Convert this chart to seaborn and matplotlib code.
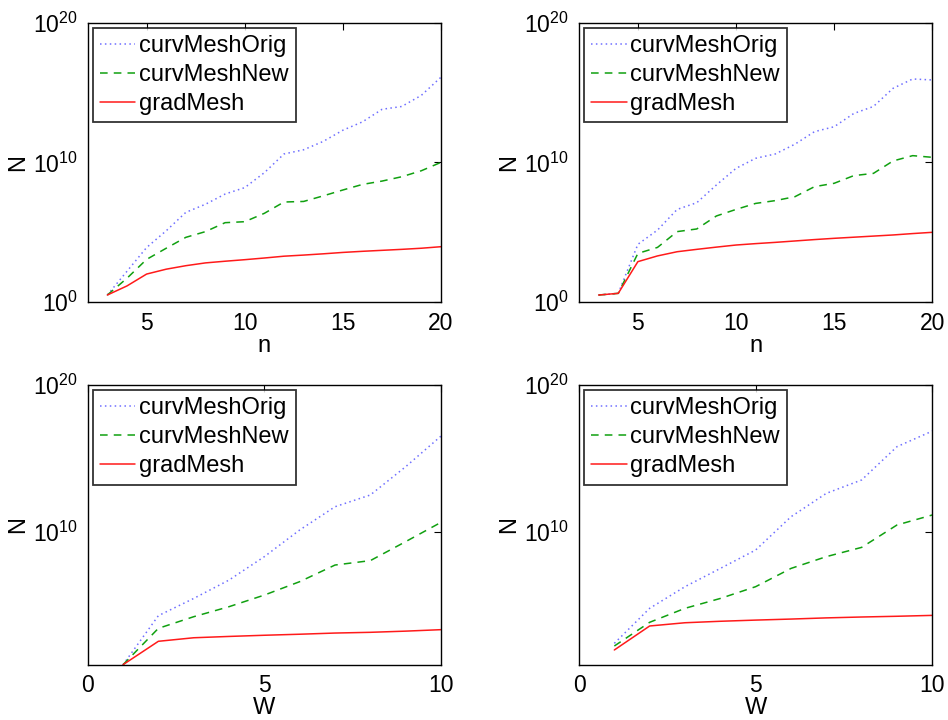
import numpy as np
import pandas as pd
import matplotlib
matplotlib.use("Agg")
import matplotlib.pyplot as plt
import seaborn as sns
from matplotlib.ticker import FixedLocator, LogFormatterMathtext, NullLocator

# Mesh sizes N, stored as log10 exponents for each series
n_vals = list(range(3, 21))
w_vals = list(range(1, 11))

tl_orig = [0.5, 2.2, 3.9, 5.1, 6.42, 7.0, 7.73, 8.19, 9.26, 10.6, 10.9, 11.5, 12.3, 12.9, 13.8, 14.0, 14.8, 16.1]
tl_new = [0.5, 1.7, 3.05, 3.85, 4.63, 5.04, 5.68, 5.75, 6.35, 7.16, 7.2, 7.6, 8.02, 8.42, 8.66, 8.97, 9.4, 10.0]
tl_grad = [0.5, 1.15, 2.0, 2.35, 2.6, 2.8, 2.92, 3.03, 3.15, 3.28, 3.36, 3.45, 3.55, 3.63, 3.7, 3.77, 3.85, 3.96]

tr_orig = [0.5, 0.62, 4.13, 5.15, 6.63, 7.11, 8.38, 9.57, 10.29, 10.6, 11.3, 12.2, 12.55, 13.5, 14.0, 15.3, 15.97, 15.9]
tr_new = [0.5, 0.62, 3.48, 3.91, 5.04, 5.23, 6.16, 6.63, 7.06, 7.26, 7.54, 8.26, 8.5, 9.05, 9.21, 10.1, 10.48, 10.36]
tr_grad = [0.5, 0.62, 2.89, 3.3, 3.6, 3.77, 3.93, 4.08, 4.18, 4.27, 4.37, 4.47, 4.56, 4.64, 4.72, 4.8, 4.9, 4.99]

bl_orig = [1.0, 4.33, 5.5, 6.75, 8.34, 10.15, 11.73, 12.53, 14.45, 16.53]
bl_new = [1.0, 3.47, 4.26, 4.94, 5.73, 6.64, 7.77, 8.07, 9.36, 10.67]
bl_grad = [1.0, 2.59, 2.83, 2.92, 3.0, 3.07, 3.15, 3.2, 3.28, 3.38]

br_orig = [2.45, 4.83, 6.3, 7.54, 8.79, 11.05, 12.64, 13.55, 15.81, 16.87]
br_new = [2.27, 3.88, 4.83, 5.5, 6.3, 7.54, 8.34, 8.97, 10.49, 11.17]
br_grad = [2.0, 3.63, 3.85, 3.95, 4.03, 4.1, 4.18, 4.24, 4.29, 4.35]

series_names = ["curvMeshOrig", "curvMeshNew", "gradMesh"]

sns.set_theme(style="white")
plt.rcParams["font.family"] = ["Liberation Sans", "DejaVu Sans"]
plt.rcParams["mathtext.fontset"] = "custom"
plt.rcParams["mathtext.rm"] = "Liberation Sans"
plt.rcParams["mathtext.it"] = "Liberation Sans"
plt.rcParams["mathtext.default"] = "regular"
plt.rcParams["text.color"] = "black"
plt.rcParams["axes.labelcolor"] = "black"

styles = {
    "curvMeshOrig": dict(color="#6f6fff", linestyle=(0, (1, 2.2)), linewidth=1.1),
    "curvMeshNew": dict(color="#10a010", linestyle=(0, (5, 4)), linewidth=1.1),
    "gradMesh": dict(color="#ff1a1a", linestyle="-", linewidth=1.1),
}

fig = plt.figure(figsize=(9.48, 7.2), dpi=100)

W, H = 948.0, 720.0
panels = [
    # (left px, top px, right px, bottom px, x, series, xlabel, xlim, ylim, yticks, xticks)
    (87.7, 22.7, 441.0, 302.0, n_vals, (tl_orig, tl_new, tl_grad), "n", (2, 20), (1e0, 1e20), [1e0, 1e10, 1e20], [5, 10, 15, 20]),
    (579.0, 22.7, 932.3, 302.0, n_vals, (tr_orig, tr_new, tr_grad), "n", (2, 20), (1e0, 1e20), [1e0, 1e10, 1e20], [5, 10, 15, 20]),
    (87.7, 385.0, 441.0, 664.7, w_vals, (bl_orig, bl_new, bl_grad), "W", (0, 10), (1e1, 1e20), [1e10, 1e20], [0, 5, 10]),
    (579.0, 385.0, 932.3, 664.7, w_vals, (br_orig, br_new, br_grad), "W", (0, 10), (1e1, 1e20), [1e10, 1e20], [0, 5, 10]),
]

for (l, t, r, b, xs, ser, xlabel, xlim, ylim, yticks, xticks) in panels:
    ax = fig.add_axes([l / W, 1 - b / H, (r - l) / W, (b - t) / H])
    for name, exps in zip(series_names, ser):
        df = pd.DataFrame({"x": xs, "N": np.power(10.0, exps)})
        sns.lineplot(data=df, x="x", y="N", ax=ax, label=name, **styles[name])
    ax.set_yscale("log")
    ax.set_xlim(*xlim)
    ax.set_ylim(*ylim)
    ax.yaxis.set_major_locator(FixedLocator(yticks))
    ax.yaxis.set_major_formatter(LogFormatterMathtext())
    ax.yaxis.set_minor_locator(NullLocator())
    ax.xaxis.set_major_locator(FixedLocator(xticks))
    ax.tick_params(which="both", direction="in", length=5, width=0.8,
                   top=True, right=True, labelsize=16.5, pad=7, colors="black")
    for sp in ax.spines.values():
        sp.set_visible(True)
        sp.set_color("black")
        sp.set_linewidth(1.0)
    ax.set_xlabel(xlabel, fontsize=17, labelpad=0)
    ax.set_ylabel("N", fontsize=17, labelpad=3)
    leg = ax.legend(loc="upper left", fontsize=17, frameon=True, fancybox=False,
                    borderaxespad=0.22, borderpad=0.3, labelspacing=0.3,
                    handlelength=1.5, handletextpad=0.15)
    for txt in leg.get_texts():
        txt.set_color("black")
    leg.get_frame().set_edgecolor("black")
    leg.get_frame().set_linewidth(1.3)
    ax.set_facecolor("white")

fig.savefig("out.png", dpi=100, facecolor="white")
